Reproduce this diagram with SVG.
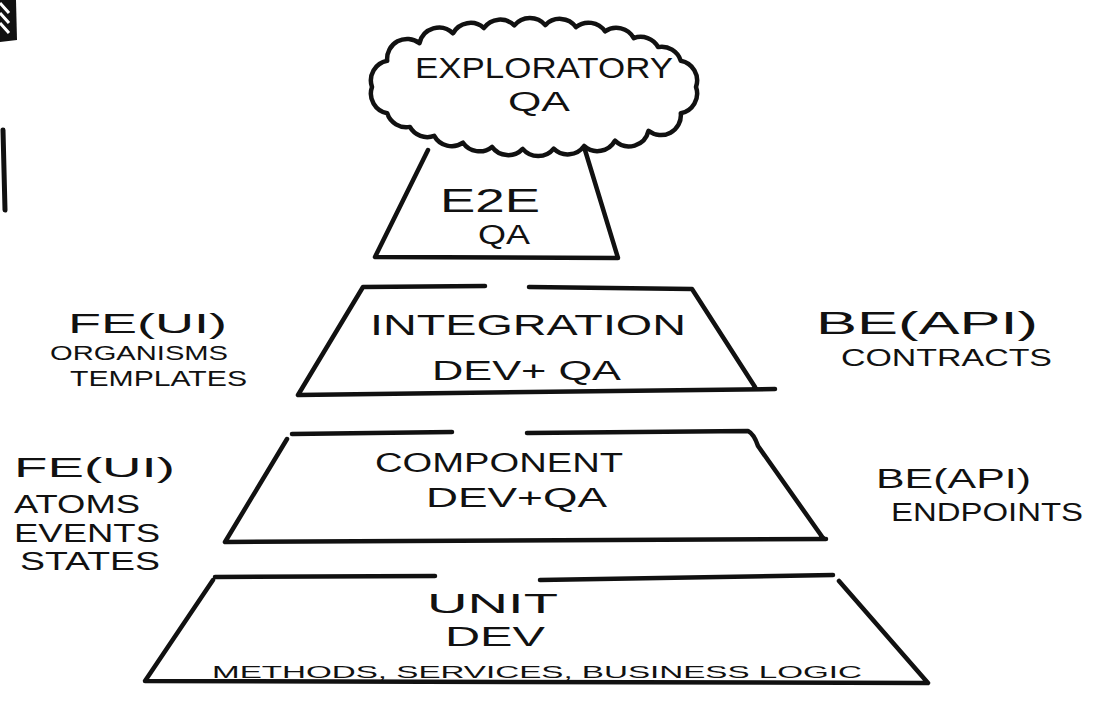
<svg xmlns="http://www.w3.org/2000/svg" width="1107" height="707" viewBox="0 0 1107 707">
<style>
.ln{fill:none;stroke:#111;stroke-width:4.5;stroke-linecap:round;stroke-linejoin:round}
.cl{fill:#fff;stroke:#111;stroke-width:4.5;stroke-linejoin:round}
text{font-family:"Liberation Sans",Arial,sans-serif;fill:#111;text-anchor:start}
.lg{font-size:30px}
.md{font-size:27px}
.sm{font-size:22px}
</style>
<rect width="1107" height="707" fill="#fff"/>
<g id="fragments">
<polygon points="0,0 16,0 17,40 0,42" fill="#111"/>
<path d="M0 3 L9 13 M0 13 L9 23 M0 23 L9 33" stroke="#fff" stroke-width="3"/>
<path d="M3 130 L5 210" stroke="#111" stroke-width="5" stroke-linecap="round"/>
</g>
<g id="e2e">
<path class="ln" d="M428 150 L375 257 L618 258 L585 150"/>
<text x="440" y="212" style="font-size:34px" textLength="100" lengthAdjust="spacingAndGlyphs">E2E</text>
<text x="478" y="244" style="font-size:27px" textLength="52" lengthAdjust="spacingAndGlyphs">QA</text>
</g>
<g id="exploratory">
<path class="cl" d="M372 87 A20 20 0 0 1 387.2 60.8 A20 20 0 0 1 419.5 43.2 A20 20 0 0 1 453 33.3 A20 20 0 0 1 483.9 28 A20 20 0 0 1 514.3 25.4 A20 20 0 0 1 545.3 25.1 A20 20 0 0 1 576 27.1 A20 20 0 0 1 605 31.3 A20 20 0 0 1 633.8 38.1 A20 20 0 0 1 658.1 47.1 A20 20 0 0 1 680.8 60.8 A20 20 0 0 1 696 87 A20 20 0 0 1 680.8 113.2 A20 20 0 0 1 648.5 130.8 A20 20 0 0 1 615 140.7 A20 20 0 0 1 584.1 146 A20 20 0 0 1 553.7 148.6 A20 20 0 0 1 522.7 148.9 A20 20 0 0 1 492 146.9 A20 20 0 0 1 463 142.7 A20 20 0 0 1 434.2 135.9 A20 20 0 0 1 409.9 126.9 A20 20 0 0 1 387.2 113.2 A20 20 0 0 1 372 87 Z"/>
<text x="415" y="78" style="font-size:30px" textLength="258" lengthAdjust="spacingAndGlyphs">EXPLORATORY</text>
<text x="508" y="111" style="font-size:27px" textLength="62" lengthAdjust="spacingAndGlyphs">QA</text>
</g>
<g id="integration">
<path class="ln" d="M485 286 L363 287 L298 395 L775 389 M529 287 L692 289 L755 387"/>
<text x="370" y="335" class="lg" textLength="316" lengthAdjust="spacingAndGlyphs">INTEGRATION</text>
<text x="432" y="380" class="md" textLength="189" lengthAdjust="spacingAndGlyphs">DEV+ QA</text>
</g>
<g id="component">
<path class="ln" d="M292 434 L452 432 M527 433 L748 431 Q754 434 758 446 L823 538 M287 439 L225 542 L826 539"/>
<text x="375" y="472" class="md" textLength="248" lengthAdjust="spacingAndGlyphs">COMPONENT</text>
<text x="426" y="507" class="md" textLength="181" lengthAdjust="spacingAndGlyphs">DEV+QA</text>
</g>
<g id="unit">
<path class="ln" d="M215 577 L435 576 M540 580 L833 575 M839 581 L928 683 L145 681 L213 580"/>
<text x="427" y="613" class="md" textLength="131" lengthAdjust="spacingAndGlyphs">UNIT</text>
<text x="445" y="646" class="md" textLength="100" lengthAdjust="spacingAndGlyphs">DEV</text>
<text x="212" y="678" style="font-size:17px" textLength="650" lengthAdjust="spacingAndGlyphs">METHODS, SERVICES, BUSINESS LOGIC</text>
</g>
<g id="fe-integration">
<text x="68" y="333" class="md" textLength="159" lengthAdjust="spacingAndGlyphs">FE(UI)</text>
<text x="50" y="360" style="font-size:21px" textLength="178" lengthAdjust="spacingAndGlyphs">ORGANISMS</text>
<text x="70" y="386" class="sm" textLength="177" lengthAdjust="spacingAndGlyphs">TEMPLATES</text>
</g>
<g id="be-integration">
<text x="816" y="334" style="font-size:32px" textLength="222" lengthAdjust="spacingAndGlyphs">BE(API)</text>
<text x="841" y="366" style="font-size:24px" textLength="211" lengthAdjust="spacingAndGlyphs">CONTRACTS</text>
</g>
<g id="fe-component">
<text x="14" y="477" class="md" textLength="161" lengthAdjust="spacingAndGlyphs">FE(UI)</text>
<text x="14" y="513" style="font-size:26px" textLength="126" lengthAdjust="spacingAndGlyphs">ATOMS</text>
<text x="14" y="542" style="font-size:26px" textLength="146" lengthAdjust="spacingAndGlyphs">EVENTS</text>
<text x="20" y="570" style="font-size:26px" textLength="140" lengthAdjust="spacingAndGlyphs">STATES</text>
</g>
<g id="be-component">
<text x="876" y="488" class="md" textLength="155" lengthAdjust="spacingAndGlyphs">BE(API)</text>
<text x="891" y="521" style="font-size:25px" textLength="192" lengthAdjust="spacingAndGlyphs">ENDPOINTS</text>
</g>
</svg>
